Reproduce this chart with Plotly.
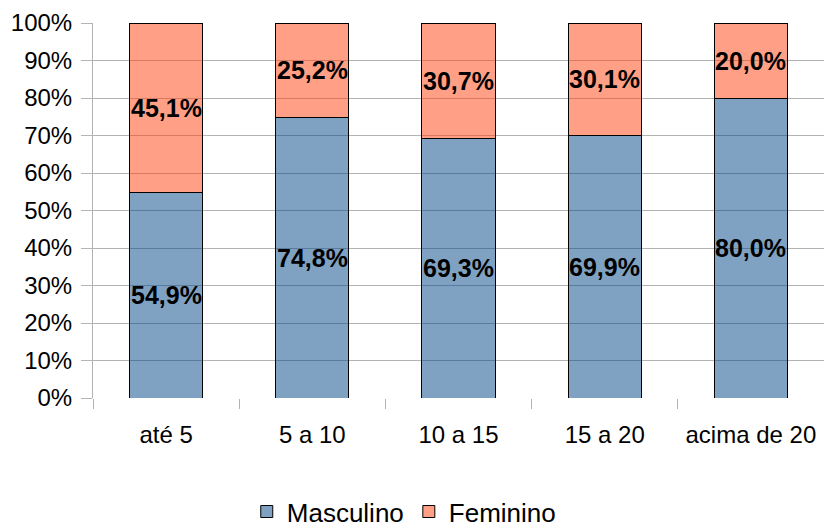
import plotly.graph_objects as go

# Faixas (anos) e distribuição percentual por sexo
categorias = ["até 5", "5 a 10", "10 a 15", "15 a 20", "acima de 20"]
masculino = [54.9, 74.8, 69.3, 69.9, 80.0]
feminino = [45.1, 25.2, 30.7, 30.1, 20.0]
y_ticks = [0, 10, 20, 30, 40, 50, 60, 70, 80, 90, 100]

FONT = "Liberation Sans"
GRID = "#b3b3b3"


def rotulo(v):
    return f"{v:.1f}%".replace(".", ",")


fig = go.Figure()
fig.add_trace(go.Bar(
    x=categorias, y=masculino, name="Masculino",
    marker=dict(color="rgba(0,69,134,0.5)", line=dict(color="#000000", width=1)),
))
fig.add_trace(go.Bar(
    x=categorias, y=feminino, name="Feminino",
    marker=dict(color="rgba(255,66,14,0.5)", line=dict(color="#000000", width=1)),
))

# Rótulos de valor no centro de cada segmento
for cat, m, f in zip(categorias, masculino, feminino):
    fig.add_annotation(x=cat, y=m / 2, text=f"<b>{rotulo(m)}</b>", showarrow=False,
                       font=dict(family=FONT, size=25, color="#000000"))
    fig.add_annotation(x=cat, y=m + f / 2, text=f"<b>{rotulo(f)}</b>", showarrow=False,
                       font=dict(family=FONT, size=25, color="#000000"))

fig.update_layout(
    barmode="stack",
    bargap=0.5,
    width=824, height=528,
    margin=dict(l=93, r=0, t=23, b=130, autoexpand=False),
    paper_bgcolor="white", plot_bgcolor="white",
    font=dict(family=FONT, size=24, color="#000000"),
    legend=dict(orientation="h", xref="container", yref="paper",
                x=0.49, xanchor="center", y=-0.303, yanchor="middle",
                font=dict(family=FONT, size=26), traceorder="normal",
                entrywidth=0, itemwidth=30),
    xaxis=dict(
        type="category", tickson="boundaries", ticks="outside", ticklen=10,
        tickcolor=GRID, showgrid=False, showline=False, zeroline=False,
        tickfont=dict(family=FONT, size=24), ticklabelstandoff=20,
        tickangle=0, automargin=False,
    ),
    yaxis=dict(
        range=[0, 100], tickvals=y_ticks, ticktext=[f"{t}%" for t in y_ticks],
        ticks="outside", ticklen=11, tickcolor=GRID,
        showgrid=True, gridcolor=GRID, gridwidth=1,
        showline=True, linecolor=GRID, linewidth=1, zeroline=False,
        tickfont=dict(family=FONT, size=24), ticklabelstandoff=4,
        automargin=False,
    ),
)

fig.write_html("out.html")
